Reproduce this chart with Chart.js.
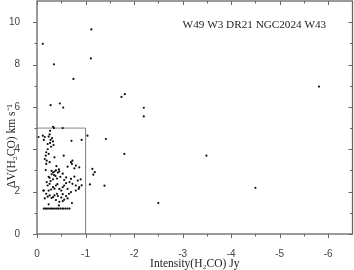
<!DOCTYPE html>
<html>
<head>
<meta charset="utf-8">
<script src="https://cdn.jsdelivr.net/npm/chart.js@4/dist/chart.umd.min.js"></script>
<style>
  body { margin: 0; background: #fff; }
  canvas { display: block; }
</style>
</head>
<body>
<canvas id="c" width="354" height="270"></canvas>
<script>
// Intensity(H2CO) in Jy (absorption, so negative) and line width in km/s
const intensity = [
  -0.12, -0.35, -0.28, -0.47, -0.54, -0.75, -1.12, -1.11, -1.74, -1.81, -2.2, -2.2, -5.81,
  -1.04, -1.42, -1.8, -1.14, -1.19, -1.16, -1.09, -1.39, -2.5, -3.49, -4.5,
  -0.33, -0.35, -0.53, -0.27, -0.12, -0.16, -0.24, -0.31, -0.26, -0.71, -0.92, -0.03, -0.14,
  -0.28, -0.33, -0.27, -0.34, -0.29, -0.22,
  -0.22, -0.19, -0.18, -0.24, -0.36, -0.55, -0.73, -0.70,
  -0.16, -0.20, -0.26, -0.19, -0.72, -0.80, -0.87, -0.77, -0.63, -0.40, -0.45,
  -0.18, -0.30, -0.33, -0.36, -0.39, -0.43, -0.30, -0.35, -0.38, -0.46, -0.53, -0.26,
  -0.33, -0.60, -0.70, -0.77, -0.67, -0.84, -0.90, -0.24, -0.41, -0.48, -0.56,
  -0.20, -0.26, -0.22, -0.33, -0.39, -0.46, -0.53, -0.56, -0.50, -0.24, -0.73, -0.80,
  -0.87, -0.63, -0.70, -0.80, -0.86, -0.29, -0.36, -0.42, -0.60, -0.92, -0.28, -0.13,
  -0.14, -0.19, -0.26, -0.33, -0.36, -0.43, -0.50, -0.53, -0.60, -0.63, -0.39, -0.46,
  -0.53, -0.72, -0.22, -0.30, -0.16, -0.41, -0.66, -0.56, -0.45, -0.24,
  -0.14, -0.17, -0.20, -0.23, -0.27, -0.30, -0.33, -0.37, -0.41, -0.44, -0.48, -0.52,
  -0.55, -0.59, -0.63, -0.67
];
const deltaV = [
  8.98, 8.01, 6.08, 6.16, 5.97, 7.32, 9.66, 8.29, 6.47, 6.6, 5.96, 5.55, 6.96,
  4.64, 4.48, 3.78, 3.07, 2.92, 2.8, 2.34, 2.28, 1.46, 3.7, 2.18,
  5.06, 5.0, 5.0, 4.87, 4.64, 4.58, 4.6, 4.53, 4.7, 4.4, 4.44, 4.58, 4.44,
  4.44, 4.37, 4.3, 4.2, 4.12, 4.25,
  4.0, 3.86, 3.7, 3.78, 3.62, 3.7, 3.46, 3.39,
  3.54, 3.46, 3.39, 3.31, 3.31, 3.23, 3.15, 3.1, 3.18, 3.2, 3.05,
  3.02, 2.98, 2.9, 2.95, 3.0, 2.9, 2.82, 2.78, 2.74, 2.96, 2.85, 2.65,
  2.58, 2.67, 2.6, 2.71, 2.45, 2.52, 2.58, 2.7, 2.62, 2.7, 2.55,
  2.45, 2.37, 2.29, 2.21, 2.29, 2.13, 2.21, 2.29, 2.05, 2.05, 2.37, 2.29,
  2.21, 2.13, 1.98, 2.05, 2.13, 2.1, 2.14, 2.35, 2.4, 2.3, 2.5, 2.05,
  2.05, 1.9, 1.82, 1.74, 1.82, 1.79, 1.72, 1.88, 1.79, 1.68, 1.6, 1.52,
  1.55, 1.46, 1.76, 1.7, 1.68, 1.9, 1.9, 1.62, 1.35, 1.4,
  1.2, 1.2, 1.2, 1.2, 1.2, 1.2, 1.2, 1.2, 1.2, 1.2, 1.2, 1.2,
  1.2, 1.2, 1.2, 1.2
];

// the boxed region (0 to -1 Jy, 0 to 5 km/s)
const boxX = [0, -1, -1];
const boxY = [5, 5, 0];

const xTicks = [0, -1, -2, -3, -4, -5, -6];
const yTicks = [0, 2, 4, 6, 8, 10];
const xRange = [-6.5, 0];
const yRange = [0, 11];
const sources = 'W49 W3 DR21 NGC2024 W43';

const points = intensity.map((v, i) => ({ x: v, y: deltaV[i] }));
const box = boxX.map((v, i) => ({ x: v, y: boxY[i] }));

const tickFont = { family: '"Liberation Sans", Arial, sans-serif', size: 10 };
const serif = '"Liberation Serif", "Times New Roman", serif';

// frame, inner/outer tick marks and the text labels
const frame = {
  id: 'frame',
  afterDraw(chart) {
    const { ctx, chartArea: a, scales: { x, y } } = chart;
    ctx.save();
    ctx.strokeStyle = '#666';
    ctx.lineWidth = 1.3;
    ctx.strokeRect(a.left, a.top, a.right - a.left, a.bottom - a.top);

    ctx.lineWidth = 1;
    ctx.beginPath();
    for (let v = 0; v >= xRange[0] + 0.01; v -= 0.5) {
      const px = Math.round(x.getPixelForValue(v)) + 0.5;
      const len = v % 1 === 0 ? 4 : 2.5;
      ctx.moveTo(px, a.bottom); ctx.lineTo(px, a.bottom + len);
      ctx.moveTo(px, a.top); ctx.lineTo(px, a.top + len);
    }
    for (let v = 0; v <= yRange[1] - 0.01; v += 1) {
      const py = Math.round(y.getPixelForValue(v)) + 0.5;
      const len = v % 2 === 0 ? 4 : 2.5;
      ctx.moveTo(a.left, py); ctx.lineTo(a.left - len, py);
      ctx.moveTo(a.right, py); ctx.lineTo(a.right - len, py);
    }
    ctx.stroke();

    ctx.fillStyle = '#222';
    ctx.font = '11.5px ' + serif;
    ctx.textAlign = 'center';
    ctx.textBaseline = 'middle';
    ctx.fillText('Intensity(H\u2082CO) Jy', (a.left + a.right) / 2, 264);

    ctx.save();
    ctx.translate(12, 146);
    ctx.rotate(-Math.PI / 2);
    ctx.fillText('\u0394V(H\u2082CO) km s\u207B\u00B9', 0, 0);
    ctx.restore();

    ctx.font = '11.2px ' + serif;
    ctx.textAlign = 'left';
    ctx.fillText(sources, x.getPixelForValue(-3.0), y.getPixelForValue(9.87));
    ctx.restore();
  }
};

new Chart(document.getElementById('c'), {
  type: 'scatter',
  data: {
    datasets: [
      {
        data: points,
        pointRadius: 1.1,
        pointBackgroundColor: '#111',
        pointBorderWidth: 0
      },
      {
        type: 'line',
        data: box,
        borderColor: '#888',
        borderWidth: 1,
        pointRadius: 0,
        fill: false,
        tension: 0
      }
    ]
  },
  options: {
    responsive: false,
    animation: false,
    devicePixelRatio: 1,
    layout: { autoPadding: false, padding: { top: 1, right: 1.5, left: 0, bottom: 0 } },
    plugins: { legend: { display: false }, tooltip: { enabled: false } },
    scales: {
      x: {
        type: 'linear',
        reverse: true,
        min: xRange[0],
        max: xRange[1],
        grid: { display: false },
        border: { display: false },
        ticks: { font: tickFont, color: '#444', padding: 6, maxRotation: 0 },
        afterBuildTicks: s => { s.ticks = xTicks.map(v => ({ value: v })); },
        afterFit: s => { s.height = 36; s.paddingLeft = 0; s.paddingRight = 0; }
      },
      y: {
        min: yRange[0],
        max: yRange[1],
        grid: { display: false },
        border: { display: false },
        ticks: { font: tickFont, color: '#444', padding: 9 },
        afterBuildTicks: s => { s.ticks = yTicks.map(v => ({ value: v })); },
        afterFit: s => { s.width = 37; s.paddingTop = 0; s.paddingBottom = 0; }
      }
    }
  },
  plugins: [frame]
});
</script>
</body>
</html>
